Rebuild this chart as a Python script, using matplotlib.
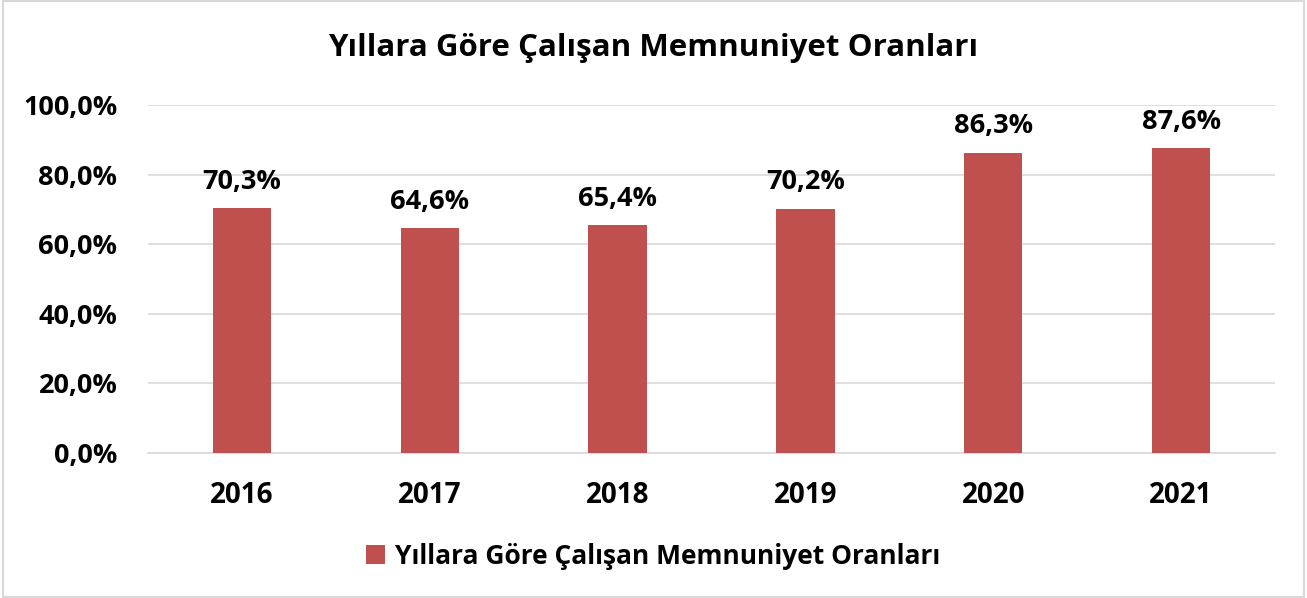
#!/usr/bin/env python3

import matplotlib
matplotlib.use('Agg')
import matplotlib.pyplot as plt
from matplotlib.ticker import FuncFormatter

years = ['2016', '2017', '2018', '2019', '2020', '2021']
rates = [70.3, 64.6, 65.4, 70.2, 86.3, 87.6]
title = 'Yıllara Göre Çalışan Memnuniyet Oranları'

plt.rcParams['font.family'] = ['Open Sans', 'DejaVu Sans']
plt.rcParams['font.weight'] = 'bold'

fig = plt.figure(figsize=(13.07, 5.98), dpi=100)
ax = fig.add_axes([148 / 1307, 1 - 453 / 598, (1275 - 148) / 1307, (453 - 105) / 598])

bar_color = '#C0504D'
x = range(len(years))
bars = ax.bar(x, rates, width=0.31, color=bar_color, label=title, zorder=3)

# value labels sit a little above each bar
for xi, v in zip(x, rates):
    ax.text(xi, v + 3.8, f'{v:.1f}%'.replace('.', ','), ha='center', va='bottom',
            fontsize=19.5, fontweight='bold')

ax.set_xlim(-0.5, len(years) - 0.5)
ax.set_ylim(0, 100)
ax.set_yticks([0, 20, 40, 60, 80, 100])
ax.yaxis.set_major_formatter(FuncFormatter(lambda v, p: f'{v:.1f}%'.replace('.', ',')))
ax.set_xticks(list(x))
ax.set_xticklabels(years)
ax.tick_params(axis='both', length=0)
ax.tick_params(axis='x', pad=20, labelsize=20)
ax.tick_params(axis='y', pad=22, labelsize=19.5)
for lbl in ax.get_xticklabels() + ax.get_yticklabels():
    lbl.set_fontweight('bold')

ax.grid(axis='y', color='#d9d9d9', linewidth=1.2, zorder=0)
for s in ['top', 'right', 'left']:
    ax.spines[s].set_visible(False)
ax.spines['bottom'].set_color('#d9d9d9')
ax.spines['bottom'].set_linewidth(1.2)

fig.text(0.5, 1 - 48 / 598, title, ha='center', va='center',
         fontsize=22.5, fontweight='bold')

fig.legend(handles=[bars], labels=[title], loc='center',
           bbox_to_anchor=(0.5, 1 - 556 / 598), frameon=False,
           prop={'size': 19, 'weight': 'bold'}, handlelength=0.7,
           handleheight=0.7, handletextpad=0.4)

# thin grey frame around the whole chart
fig.patches.append(plt.Rectangle((0.002, 0.002), 0.996, 0.996, transform=fig.transFigure,
                                 fill=False, edgecolor='#d9d9d9', linewidth=1.5))

fig.savefig('out.png', dpi=100)
